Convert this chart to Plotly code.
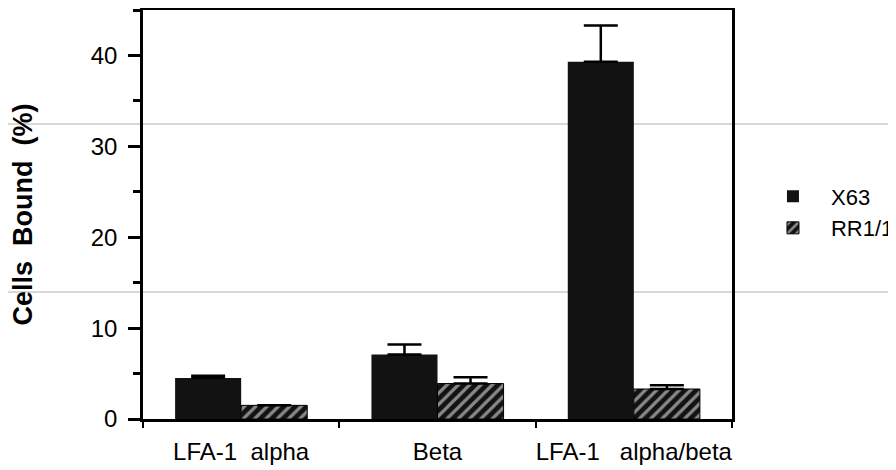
import plotly.graph_objects as go

categories = ["LFA-1\u00a0\u00a0alpha", "Beta", "LFA-1\u00a0\u00a0\u00a0alpha/beta"]
series_names = ["X63", "RR1/1"]
x63_values = [4.5, 7.1, 39.3]
x63_errors = [0.25, 1.1, 4.0]
rr_values = [1.5, 3.9, 3.3]
rr_errors = [0.0, 0.7, 0.4]
y_tick_values = [0, 10, 20, 30, 40]
y_tick_labels = ["0", "10", "20", "30", "40"]
y_title = "Cells\u00a0\u00a0Bound\u00a0\u00a0(%)\u00a0\u00a0"

FONT = "Liberation Sans, Arial, Helvetica, sans-serif"

fig = go.Figure()
fig.add_trace(go.Bar(
    name=series_names[0], x=categories, y=x63_values,
    marker=dict(color="#121212", line=dict(width=0)),
    error_y=dict(type="data", symmetric=False, array=x63_errors,
                 arrayminus=[0] * len(x63_errors), color="black",
                 thickness=2.5, width=17),
))
fig.add_trace(go.Bar(
    name=series_names[1], x=categories, y=rr_values,
    marker=dict(color="#121212", line=dict(width=1, color="black"),
                pattern=dict(shape="/", bgcolor="#121212", fgcolor="white",
                             size=8, solidity=0.4)),
    error_y=dict(type="data", symmetric=False, array=rr_errors,
                 arrayminus=[0] * len(rr_errors), color="black",
                 thickness=2.5, width=17),
))

# faint scan lines crossing the whole picture
for yp in [0.7213, 0.3105]:
    fig.add_shape(type="line", xref="paper", yref="paper",
                  x0=-0.25, x1=1.3, y0=yp, y1=yp,
                  line=dict(color="#b0b0b0", width=1), layer="below")

# page body has an 8px margin, so the figure is 888x462 and sits at (8, 8)
fig.update_layout(
    width=888, height=462,
    margin=dict(l=135, r=164, t=2, b=51, autoexpand=False),
    paper_bgcolor="white", plot_bgcolor="rgba(0,0,0,0)",
    barmode="group", bargap=0.327, bargroupgap=0,
    font=dict(family=FONT, size=24, color="black"),
    showlegend=True,
    legend=dict(x=1.039, xanchor="left", y=0.505, yanchor="middle",
                font=dict(size=22), itemwidth=66, tracegroupgap=0,
                bgcolor="rgba(0,0,0,0)"),
)
fig.update_xaxes(
    type="category", range=[-0.5, 2.5], automargin=False, tickangle=0,
    showline=True, linecolor="black", linewidth=2.5, mirror=True,
    ticks="outside", tickson="boundaries", ticklen=6, tickwidth=2,
    tickcolor="black", showgrid=False, zeroline=False,
    tickfont=dict(size=24), ticklabelstandoff=9,
)
fig.update_yaxes(
    range=[0, 45], tickvals=y_tick_values, ticktext=y_tick_labels,
    automargin=False,
    showline=True, linecolor="black", linewidth=2.5, mirror=True,
    ticks="outside", ticklen=12, tickwidth=2.5, tickcolor="black",
    minor=dict(dtick=5, ticks="outside", ticklen=7, tickwidth=2.5,
               tickcolor="black", showgrid=False),
    showgrid=False, zeroline=False,
    tickfont=dict(size=24), ticklabelstandoff=6,
    title=dict(text=y_title, font=dict(size=27, family=FONT, weight="bold"),
               standoff=52),
)

fig.write_html("out.html")
